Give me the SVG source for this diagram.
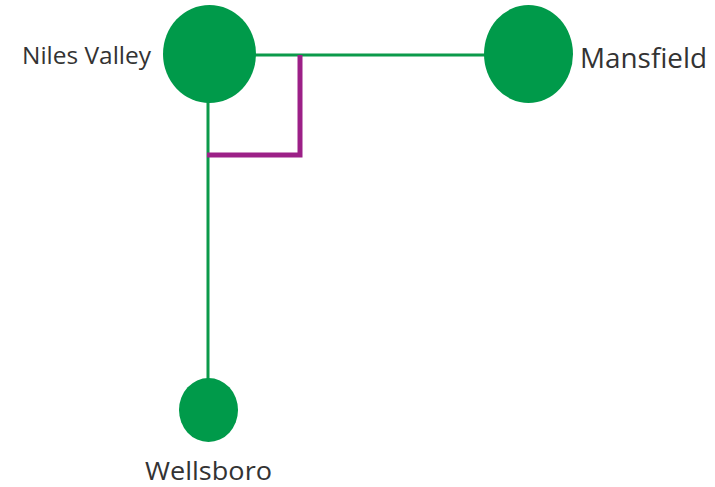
<svg xmlns="http://www.w3.org/2000/svg" width="715" height="487" viewBox="0 0 715 487">
<style>
.node{fill:#009A4A}
.lbl{font-family:"Open Sans","Noto Sans",sans-serif;fill:#333}
.g{stroke:#0B9A4A;stroke-width:3;fill:none}
.p{stroke:#9C2087;stroke-width:5;fill:none;stroke-linejoin:miter}
</style>
<rect width="715" height="487" fill="#fff"/>
<g id="connectors">
<line class="g" x1="255" y1="55" x2="486" y2="55"/>
<line class="g" x1="208" y1="100" x2="208" y2="380"/>
<polyline class="p" points="300,55 300,155 207,155"/>
</g>
<g id="niles-valley">
<ellipse class="node" cx="209.5" cy="54" rx="46.5" ry="49"/>
<text class="lbl" x="22" y="64" font-size="23" textLength="129" lengthAdjust="spacingAndGlyphs">Niles Valley</text>
</g>
<g id="mansfield">
<ellipse class="node" cx="528.5" cy="54" rx="44.5" ry="49"/>
<text class="lbl" x="580" y="68" font-size="27" textLength="127" lengthAdjust="spacingAndGlyphs">Mansfield</text>
</g>
<g id="wellsboro">
<ellipse class="node" cx="208.5" cy="410" rx="29.5" ry="32"/>
<text class="lbl" x="145" y="480" font-size="26" textLength="127" lengthAdjust="spacingAndGlyphs">Wellsboro</text>
</g>
</svg>
